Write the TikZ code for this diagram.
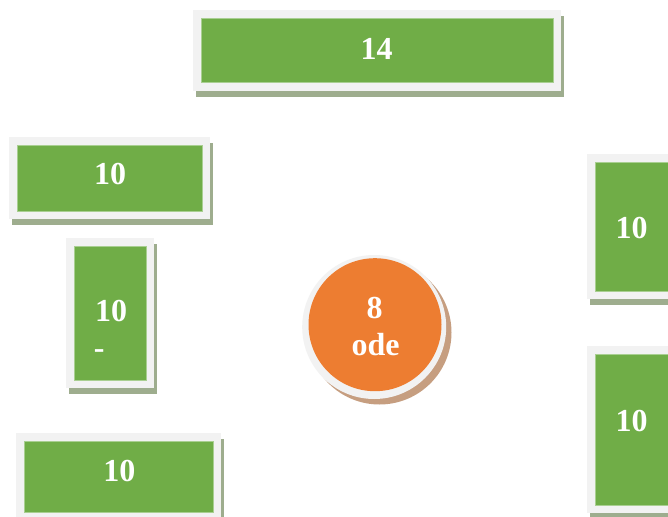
\documentclass[tikz,border=0pt]{standalone}
\usepackage{fontspec}
\setmainfont{Liberation Serif}
\usetikzlibrary{fit}
\definecolor{boxgreen}{HTML}{70AD47}
\definecolor{boxedge}{HTML}{A9CF91}
\definecolor{framegray}{HTML}{F2F2F2}
\definecolor{shadowgreen}{HTML}{9EAD8E}
\definecolor{circorange}{HTML}{ED7D31}
\definecolor{shadowtan}{HTML}{C69E80}
\tikzset{
  gbox/.style={rectangle, fill=boxgreen, draw=boxedge, line width=0.3pt, inner sep=0pt},
  lbl/.style={text=white, font=\fontsize{24}{28}\selectfont\bfseries, inner sep=0pt},
  orb/.style={circle, fill=circorange, inner sep=0pt, minimum size=99.75pt}
}
\newcommand\greenbox[5]{%
  \fill[shadowgreen] ([shift={(-5,-2)}]#2,#3) rectangle ([shift={(11,14)}]#4,#5);
  \fill[framegray] ([shift={(-8,-8)}]#2,#3) rectangle ([shift={(8,8)}]#4,#5);
  \node[gbox, fit={(#2,#3) (#4,#5)}] (#1) {};
}
\begin{document}
\begin{tikzpicture}[x=0.75pt,y=-0.75pt]
\useasboundingbox (0,0) rectangle (668,517);
\fill[white] (0,0) rectangle (668,517);
\greenbox{top}{200.7}{18.3}{553.3}{82.7}
\greenbox{leftA}{17.3}{145}{201.7}{210.7}
\greenbox{leftB}{74}{246}{146}{380}
\greenbox{leftC}{24}{440.7}{212.7}{511.7}
\greenbox{rightA}{595}{161.7}{668.4}{291}
\greenbox{rightB}{595}{354.3}{668.4}{505}
% central circle
\fill[shadowtan] (379.5,332.5) circle[radius=54pt];
\fill[framegray] (374.2,327) circle[radius=54pt];
\node[orb] (hub) at (375,324.7) {};
% labels
\node[lbl, anchor=base] (t14) at (376.7,60) {14};
\node[lbl, anchor=base] (tA) at (110,185) {10};
\node[lbl, anchor=base] (tB) at (111,321.7) {10};
\node[lbl, anchor=base west] (tBdash) at (93.5,358) {-};
\node[lbl, anchor=base] (tC) at (119.3,481) {10};
\node[lbl, anchor=base] (tRA) at (631.7,238.3) {10};
\node[lbl, anchor=base] (tRB) at (631.7,431.7) {10};
\node[lbl, anchor=base] (h8) at (374.7,318.3) {8};
\node[lbl, anchor=base] (hode) at (375.5,355) {ode};
\end{tikzpicture}
\end{document}
